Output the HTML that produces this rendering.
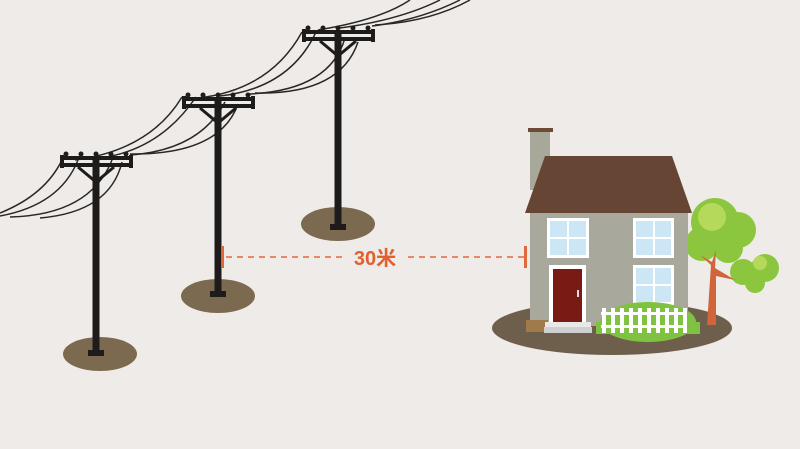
<!DOCTYPE html>
<html><head><meta charset="utf-8"><style>
html,body{margin:0;padding:0;background:#efebe9;}
svg{display:block;}
</style></head><body>
<svg width="800" height="449" viewBox="0 0 800 449" xmlns="http://www.w3.org/2000/svg">
<rect width="800" height="449" fill="#efebe9"/>
<defs>
<g id="pole">
  <rect x="-3.5" y="0" width="7" height="192" fill="#1e1c1a"/>
  <rect x="-8" y="190" width="16" height="6" fill="#1e1c1a"/>
  <rect x="-35" y="-4" width="72" height="4" fill="#1e1c1a"/>
  <rect x="-35" y="3" width="72" height="4" fill="#1e1c1a"/>
  <rect x="-36" y="-5" width="4" height="13" fill="#1e1c1a"/>
  <rect x="33" y="-5" width="4" height="13" fill="#1e1c1a"/>
  <circle cx="-30" cy="-6" r="2.5" fill="#1e1c1a"/>
  <circle cx="-15" cy="-6" r="2.5" fill="#1e1c1a"/>
  <circle cx="0" cy="-6" r="2.5" fill="#1e1c1a"/>
  <circle cx="15" cy="-6" r="2.5" fill="#1e1c1a"/>
  <circle cx="30" cy="-6" r="2.5" fill="#1e1c1a"/>
  <path d="M-18 7 L0 22 L18 7" stroke="#1e1c1a" stroke-width="3" fill="none"/>
</g>
</defs>
<ellipse cx="100" cy="354" rx="37" ry="17" fill="#7c6a50"/>
<ellipse cx="218" cy="296" rx="37" ry="17" fill="#7c6a50"/>
<ellipse cx="338" cy="224" rx="37" ry="17" fill="#7c6a50"/>
<g stroke="#2a2826" stroke-width="1.5" fill="none">
  <path d="M0 213 Q45 195 62 160"/>
  <path d="M0 216 Q60 205 78 160"/>
  <path d="M10 217 Q90 215 112 160"/>
  <path d="M40 218 Q110 212 122 162"/>
  <path d="M75 160 Q150 150 182 97"/>
  <path d="M100 158 Q160 150 196 97"/>
  <path d="M130 155 Q200 150 225 102"/>
  <path d="M130 154 Q220 155 238 104"/>
  <path d="M198 98 Q270 90 302 32"/>
  <path d="M220 96 Q290 88 316 32"/>
  <path d="M250 94 Q330 90 345 38"/>
  <path d="M255 93 Q340 95 358 42"/>
  <path d="M318 30 Q380 20 410 0"/>
  <path d="M340 28 Q400 20 440 0"/>
  <path d="M372 26 Q420 20 460 0"/>
  <path d="M375 25 Q430 22 470 0"/>
</g>
<use href="#pole" x="96" y="160"/>
<use href="#pole" x="218" y="101"/>
<use href="#pole" x="338" y="34"/>
<line x1="226" y1="257" x2="346" y2="257" stroke="#e0683a" stroke-width="1.5" stroke-dasharray="6,5"/>
<line x1="408" y1="257" x2="524" y2="257" stroke="#e0683a" stroke-width="1.5" stroke-dasharray="6,5"/>
<rect x="222" y="246" width="2" height="22" fill="#e0683a"/>
<rect x="524" y="246" width="3" height="22" fill="#e0683a"/>
<text x="375" y="265" font-family="Liberation Sans, Noto Sans CJK SC, sans-serif" font-weight="bold" font-size="20" fill="#e0602e" text-anchor="middle">30米</text>
<ellipse cx="612" cy="328" rx="120" ry="27" fill="#6e5e4c"/>
<g>
  <circle cx="715" cy="222" r="24" fill="#8cc63f"/>
  <circle cx="738" cy="230" r="18" fill="#8cc63f"/>
  <circle cx="702" cy="244" r="17" fill="#8cc63f"/>
  <circle cx="728" cy="248" r="15" fill="#8cc63f"/>
  <circle cx="743" cy="272" r="13" fill="#8cc63f"/>
  <circle cx="765" cy="268" r="14" fill="#8cc63f"/>
  <circle cx="755" cy="283" r="10" fill="#8cc63f"/>
  <circle cx="712" cy="217" r="14" fill="#b5d95a"/>
  <circle cx="760" cy="263" r="7" fill="#b5d95a"/>
  <path d="M707 325 L711 265 L700 255 L712 262 L716 250 L715 268 L735 280 L716 276 L716 325 Z" fill="#d0643a"/>
</g>
<rect x="530" y="130" width="20" height="60" fill="#a8a89a"/>
<rect x="528" y="128" width="25" height="4" fill="#6b4a36"/>
<rect x="530" y="210" width="158" height="116" fill="#a8a99c"/>
<polygon points="545,156 672,156 692,213 525,213" fill="#664534"/>
<g>
  <rect x="547" y="218" width="42" height="40" fill="#fff"/>
  <rect x="550" y="221" width="17" height="16" fill="#cde6f5"/><rect x="569" y="221" width="17" height="16" fill="#cde6f5"/>
  <rect x="550" y="239" width="17" height="16" fill="#cde6f5"/><rect x="569" y="239" width="17" height="16" fill="#cde6f5"/>
  <rect x="633" y="218" width="41" height="40" fill="#fff"/>
  <rect x="636" y="221" width="17" height="16" fill="#cde6f5"/><rect x="655" y="221" width="16" height="16" fill="#cde6f5"/>
  <rect x="636" y="239" width="17" height="16" fill="#cde6f5"/><rect x="655" y="239" width="16" height="16" fill="#cde6f5"/>
  <rect x="633" y="265" width="41" height="40" fill="#fff"/>
  <rect x="636" y="268" width="17" height="16" fill="#cde6f5"/><rect x="655" y="268" width="16" height="16" fill="#cde6f5"/>
  <rect x="636" y="286" width="17" height="16" fill="#cde6f5"/><rect x="655" y="286" width="16" height="16" fill="#cde6f5"/>
</g>
<rect x="549" y="265" width="37" height="58" fill="#fff"/>
<rect x="553" y="269" width="29" height="54" fill="#7a1a14"/>
<rect x="577" y="290" width="2" height="7" fill="#ddd"/>
<rect x="526" y="320" width="22" height="12" fill="#a07a48"/>
<rect x="545" y="322" width="46" height="5" fill="#e8e8e8"/>
<rect x="544" y="327" width="48" height="6" fill="#d0d0d0"/>
<ellipse cx="648" cy="322" rx="48" ry="20" fill="#7fc241"/>
<rect x="596" y="322" width="104" height="12" fill="#7fc241"/>
<g fill="#fff">
  <rect x="601" y="312" width="86" height="3"/>
  <rect x="601" y="325" width="86" height="3"/>
  <rect x="602" y="308" width="4" height="25"/><rect x="611" y="308" width="4" height="25"/>
  <rect x="620" y="308" width="4" height="25"/><rect x="629" y="308" width="4" height="25"/>
  <rect x="638" y="308" width="4" height="25"/><rect x="647" y="308" width="4" height="25"/>
  <rect x="656" y="308" width="4" height="25"/><rect x="665" y="308" width="4" height="25"/>
  <rect x="674" y="308" width="4" height="25"/><rect x="683" y="308" width="4" height="25"/>
</g>
</svg>
</body></html>
